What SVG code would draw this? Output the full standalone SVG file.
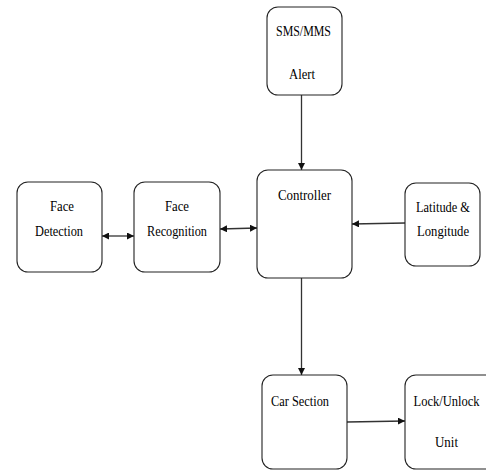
<svg xmlns="http://www.w3.org/2000/svg" width="486" height="471" viewBox="0 0 486 471">
<style>
.box{fill:#fff;stroke:#222;stroke-width:1.1}
.t{font-family:"Liberation Serif",serif;font-size:15px;fill:#000;text-anchor:middle}
.c{stroke:#333;stroke-width:1.3;fill:none}
</style>
<defs>
<marker id="ah" viewBox="0 0 10 10" refX="10" refY="5" markerWidth="7" markerHeight="7" orient="auto-start-reverse" markerUnits="userSpaceOnUse">
<path d="M0,0 L10,5 L0,10 z" fill="#111"/>
</marker>
</defs>
<rect width="486" height="471" fill="#fff"/>
<g id="connectors">
<line class="c" x1="301.5" y1="95" x2="301.5" y2="170" marker-end="url(#ah)"/>
<line class="c" x1="102" y1="236" x2="134" y2="236" marker-start="url(#ah)" marker-end="url(#ah)"/>
<line class="c" x1="220" y1="229" x2="257" y2="228" marker-start="url(#ah)" marker-end="url(#ah)"/>
<line class="c" x1="405" y1="223" x2="352" y2="224" marker-end="url(#ah)"/>
<line class="c" x1="301.5" y1="278" x2="301.5" y2="375" marker-end="url(#ah)"/>
<line class="c" x1="347" y1="422" x2="405" y2="421" marker-end="url(#ah)"/>
</g>
<g id="sms">
<rect class="box" x="267" y="7" width="75" height="88" rx="11"/>
<text class="t" x="303.5" y="36" textLength="55" lengthAdjust="spacingAndGlyphs">SMS/MMS</text>
<text class="t" x="302" y="79" textLength="26" lengthAdjust="spacingAndGlyphs">Alert</text>
</g>
<g id="facedetection">
<rect class="box" x="17" y="182" width="85" height="90" rx="11"/>
<text class="t" x="62" y="211" textLength="24" lengthAdjust="spacingAndGlyphs">Face</text>
<text class="t" x="59" y="236" textLength="48" lengthAdjust="spacingAndGlyphs">Detection</text>
</g>
<g id="facerecognition">
<rect class="box" x="134" y="182" width="86" height="90" rx="11"/>
<text class="t" x="177" y="211" textLength="24" lengthAdjust="spacingAndGlyphs">Face</text>
<text class="t" x="177" y="236" textLength="60" lengthAdjust="spacingAndGlyphs">Recognition</text>
</g>
<g id="controller">
<rect class="box" x="257" y="170" width="95" height="108" rx="11"/>
<text class="t" x="304.5" y="200" textLength="53" lengthAdjust="spacingAndGlyphs">Controller</text>
</g>
<g id="latlong">
<rect class="box" x="405" y="183" width="75" height="83" rx="11"/>
<text class="t" x="443" y="212" textLength="54" lengthAdjust="spacingAndGlyphs">Latitude &amp;</text>
<text class="t" x="443" y="236" textLength="52" lengthAdjust="spacingAndGlyphs">Longitude</text>
</g>
<g id="carsection">
<rect class="box" x="262" y="375" width="85" height="94" rx="11"/>
<text class="t" x="300" y="406" textLength="58" lengthAdjust="spacingAndGlyphs">Car Section</text>
</g>
<g id="lockunlock">
<rect class="box" x="405" y="375" width="95" height="94" rx="11"/>
<text class="t" x="446.5" y="406" textLength="66" lengthAdjust="spacingAndGlyphs">Lock/Unlock</text>
<text class="t" x="446.5" y="447" textLength="23" lengthAdjust="spacingAndGlyphs">Unit</text>
</g>
</svg>
